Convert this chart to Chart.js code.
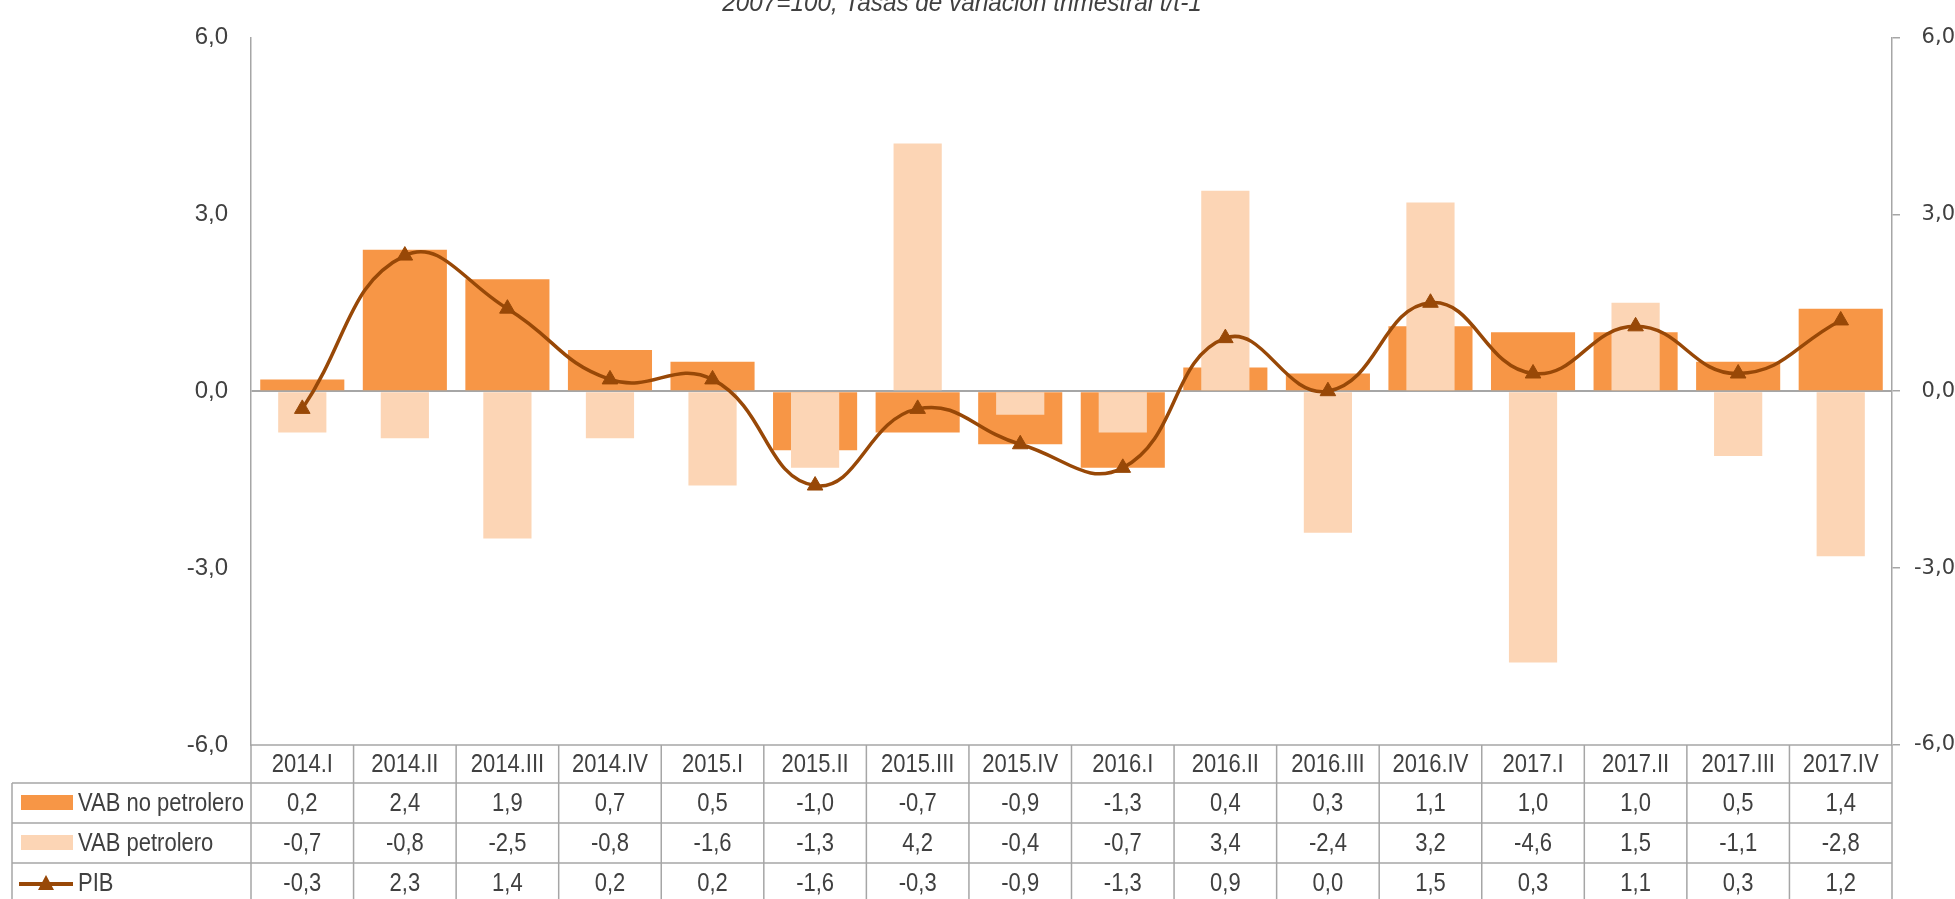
<!DOCTYPE html>
<html>
<head>
<meta charset="utf-8">
<script src="https://cdn.jsdelivr.net/npm/chart.js@4.4.1/dist/chart.umd.min.js"></script>
<style>
  html,body{margin:0;padding:0;background:#fff;}
  #wrap{position:relative;width:1955px;height:899px;}
</style>
</head>
<body>
<div id="wrap"><canvas id="mainChart" width="1955" height="899"></canvas></div>
<script>
/* PIB trimestral: VAB no petrolero / VAB petrolero / PIB */
const categories = ['2014.I','2014.II','2014.III','2014.IV','2015.I','2015.II','2015.III','2015.IV',
                    '2016.I','2016.II','2016.III','2016.IV','2017.I','2017.II','2017.III','2017.IV'];
const vabNoPetrolero = [0.2, 2.4, 1.9, 0.7, 0.5, -1.0, -0.7, -0.9, -1.3, 0.4, 0.3, 1.1, 1.0, 1.0, 0.5, 1.4];
const vabPetrolero   = [-0.7, -0.8, -2.5, -0.8, -1.6, -1.3, 4.2, -0.4, -0.7, 3.4, -2.4, 3.2, -4.6, 1.5, -1.1, -2.8];
const pib            = [-0.3, 2.3, 1.4, 0.2, 0.2, -1.6, -0.3, -0.9, -1.3, 0.9, 0.0, 1.5, 0.3, 1.1, 0.3, 1.2];
const yMin = -6, yMax = 6, yStep = 3;
const titleText = '2007=100, Tasas de variación trimestral t/t-1';

(function(){
  const C_NOPET = '#F79646';
  const C_PET = '#FCD5B5';
  const C_PIB = '#984807';
  const GRID = '#A6A6A6';
  const TXT = '#404040';
  const SANS = '"Liberation Sans", Arial, sans-serif';
  const NARROW_X = 0.88; // no Arial Narrow here, squeeze Liberation Sans instead

  function fmt(v){ return Number(v).toFixed(1).replace('.', ','); }

  function narrowText(ctx, text, x, y, align, sx){
    ctx.save();
    ctx.translate(x, y);
    ctx.scale(sx || NARROW_X, 1);
    ctx.textAlign = align;
    ctx.fillText(text, 0, 0);
    ctx.restore();
  }

  const rows = [
    {label:'VAB no petrolero', data:vabNoPetrolero, kind:'bar', color:C_NOPET},
    {label:'VAB petrolero', data:vabPetrolero, kind:'bar', color:C_PET},
    {label:'PIB', data:pib, kind:'line', color:C_PIB}
  ];

  // table + title drawn under the plot, using the x scale positions
  const tablePlugin = {
    id:'dataTable',
    afterDraw(chart){
      const ctx = chart.ctx;
      const area = chart.chartArea;
      const xs = chart.scales.x;
      const n = categories.length;
      const colW = (area.right - area.left) / n;
      const headTop = area.bottom;
      const headBot = 783;
      const rowH = 40;
      const tblLeft = 12;
      const H = chart.height;

      ctx.save();
      ctx.strokeStyle = GRID;
      ctx.lineWidth = 1.5;

      ctx.beginPath();
      ctx.moveTo(area.left, headTop); ctx.lineTo(area.right, headTop);
      for(let r=0; r<rows.length; r++){
        const y = headBot + r*rowH;
        ctx.moveTo(tblLeft, y); ctx.lineTo(area.right, y);
      }
      ctx.moveTo(tblLeft, headBot); ctx.lineTo(tblLeft, H);
      for(let i=0; i<=n; i++){
        const x = area.left + i*colW;
        ctx.moveTo(x, headTop); ctx.lineTo(x, H);
      }
      ctx.stroke();

      ctx.fillStyle = TXT;
      ctx.font = '25px ' + SANS;
      ctx.textBaseline = 'middle';
      categories.forEach((c,i)=>{
        narrowText(ctx, c, xs.getPixelForValue(i), (headTop+headBot)/2 + 1, 'center');
      });

      rows.forEach((row,r)=>{
        const yc = headBot + r*rowH + rowH/2 + 1;
        row.data.forEach((v,i)=>{
          narrowText(ctx, fmt(v), xs.getPixelForValue(i), yc, 'center');
        });
        // legend key
        if(row.kind === 'bar'){
          ctx.fillStyle = row.color;
          ctx.fillRect(21, yc-9, 52, 15);
        } else {
          ctx.strokeStyle = row.color;
          ctx.lineWidth = 4;
          ctx.beginPath(); ctx.moveTo(19, yc); ctx.lineTo(73, yc); ctx.stroke();
          ctx.fillStyle = row.color;
          ctx.beginPath();
          ctx.moveTo(46, yc-9); ctx.lineTo(54, yc+6); ctx.lineTo(38, yc+6); ctx.closePath();
          ctx.fill();
        }
        ctx.fillStyle = TXT;
        narrowText(ctx, row.label, 78, yc, 'left');
      });

      // title (top of it is cut off in the source)
      ctx.font = 'italic 26px ' + SANS;
      ctx.textBaseline = 'alphabetic';
      narrowText(ctx, titleText, 962, 11, 'center', 0.935);
      ctx.restore();
    }
  };

  const canvas = document.getElementById('mainChart');
  new Chart(canvas, {
    type:'bar',
    data:{
      labels:categories,
      datasets:[
        {type:'line', label:'PIB', data:pib, yAxisID:'y', order:0,
         borderColor:C_PIB, backgroundColor:C_PIB, borderWidth:3.5, tension:0.45,
         pointStyle:'triangle', pointRadius:9, pointBackgroundColor:C_PIB, pointBorderColor:C_PIB, pointBorderWidth:1},
        {label:'VAB petrolero', data:vabPetrolero, yAxisID:'y', order:1, grouped:false,
         backgroundColor:C_PET, borderWidth:0, categoryPercentage:1, barPercentage:0.47},
        {label:'VAB no petrolero', data:vabNoPetrolero, yAxisID:'y', order:2, grouped:false,
         backgroundColor:C_NOPET, borderWidth:0, categoryPercentage:1, barPercentage:0.82}
      ]
    },
    options:{
      responsive:false,
      animation:false,
      layout:{padding:{top:26, bottom:154, left:0, right:0}},
      plugins:{legend:{display:false}, tooltip:{enabled:false}, title:{display:false}},
      scales:{
        x:{display:false, offset:true},
        y:{
          position:'left', min:yMin, max:yMax,
          afterFit(s){ s.width = 251; },
          ticks:{stepSize:yStep, color:TXT, padding:23, font:{family:SANS, size:24}, callback:v=>fmt(v)},
          grid:{drawTicks:false, color:c=>c.tick && c.tick.value===0 ? GRID : 'rgba(0,0,0,0)', lineWidth:2},
          border:{display:true, color:GRID, width:1.5}
        },
        y2:{
          position:'right', min:yMin, max:yMax,
          afterFit(s){ s.width = 63; },
          ticks:{stepSize:yStep, color:TXT, padding:9, crossAlign:'far', font:{family:'"DejaVu Sans", sans-serif', size:21}, callback:v=>fmt(v)},
          grid:{drawOnChartArea:false, drawTicks:true, tickLength:8, tickColor:GRID, lineWidth:1.5},
          border:{display:true, color:GRID, width:1.5}
        }
      }
    },
    plugins:[tablePlugin]
  });
})();
</script>
</body>
</html>
